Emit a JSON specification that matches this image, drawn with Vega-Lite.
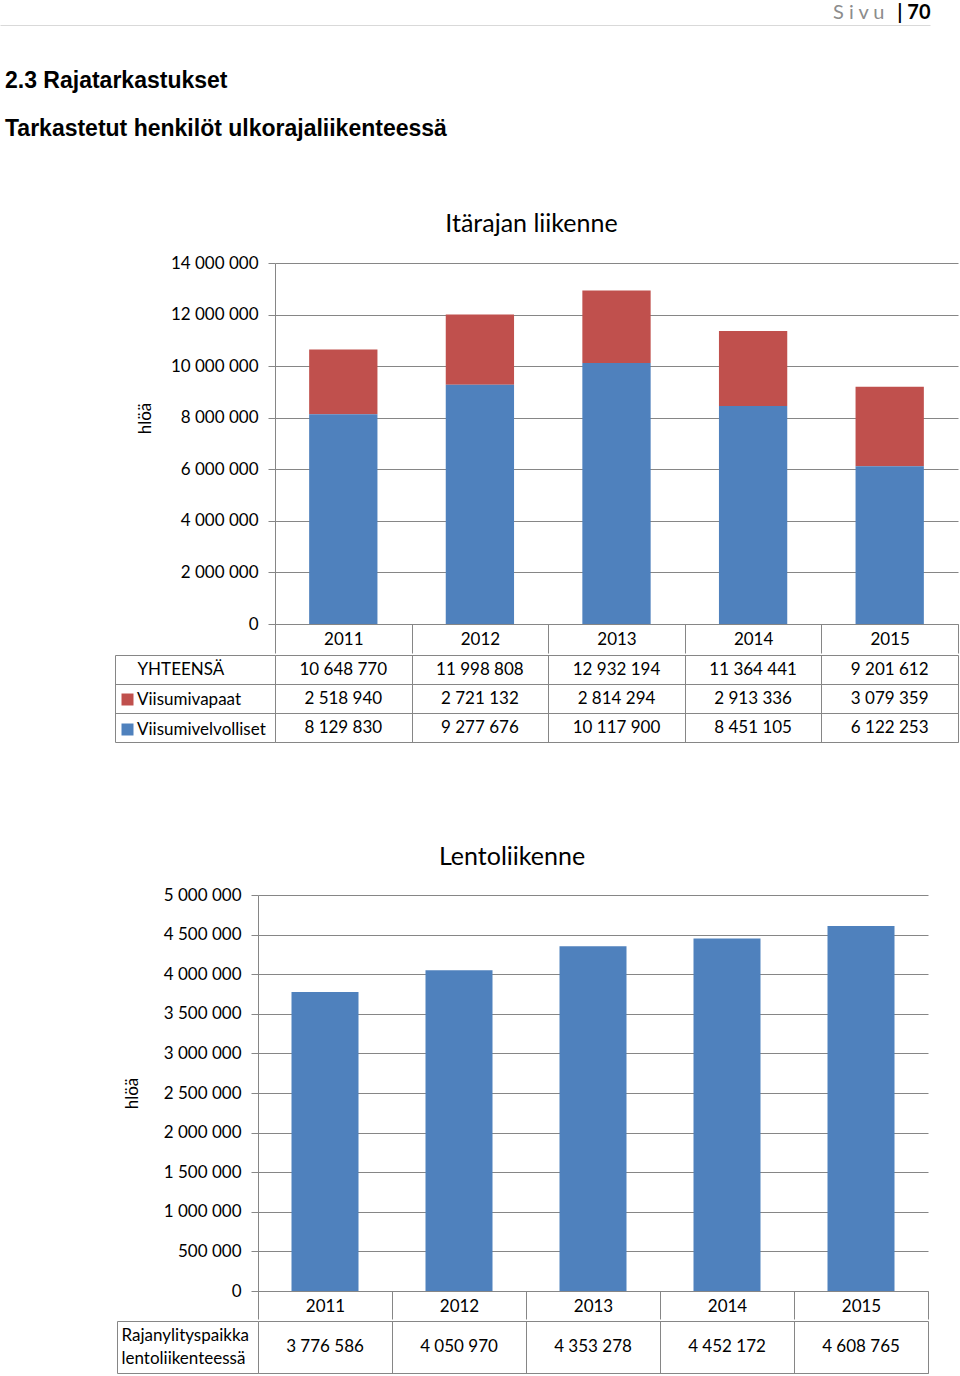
{
  "$schema": "https://vega.github.io/schema/vega-lite/v6.json",
  "background": "white",
  "padding": {"left": 0, "top": 2, "right": 0, "bottom": 0},
  "title": {"text": "S i v u", "anchor": "end", "dx": -74, "dy": 37, "offset": 0, "font": "Lato", "fontSize": 20, "fontWeight": "normal", "color": "#8c8c8c", "baseline": "alphabetic"},
  "datasets": {
    "itaraja": [
      {"vuosi": 2011, "ryhma": "YHTEENSÄ", "arvo": 10648770},
      {"vuosi": 2012, "ryhma": "YHTEENSÄ", "arvo": 11998808},
      {"vuosi": 2013, "ryhma": "YHTEENSÄ", "arvo": 12932194},
      {"vuosi": 2014, "ryhma": "YHTEENSÄ", "arvo": 11364441},
      {"vuosi": 2015, "ryhma": "YHTEENSÄ", "arvo": 9201612},
      {"vuosi": 2011, "ryhma": "Viisumivapaat", "arvo": 2518940},
      {"vuosi": 2012, "ryhma": "Viisumivapaat", "arvo": 2721132},
      {"vuosi": 2013, "ryhma": "Viisumivapaat", "arvo": 2814294},
      {"vuosi": 2014, "ryhma": "Viisumivapaat", "arvo": 2913336},
      {"vuosi": 2015, "ryhma": "Viisumivapaat", "arvo": 3079359},
      {"vuosi": 2011, "ryhma": "Viisumivelvolliset", "arvo": 8129830},
      {"vuosi": 2012, "ryhma": "Viisumivelvolliset", "arvo": 9277676},
      {"vuosi": 2013, "ryhma": "Viisumivelvolliset", "arvo": 10117900},
      {"vuosi": 2014, "ryhma": "Viisumivelvolliset", "arvo": 8451105},
      {"vuosi": 2015, "ryhma": "Viisumivelvolliset", "arvo": 6122253}
    ],
    "lento": [
      {"vuosi": 2011, "rivi": "Rajanylityspaikka lentoliikenteessä", "arvo": 3776586},
      {"vuosi": 2012, "rivi": "Rajanylityspaikka lentoliikenteessä", "arvo": 4050970},
      {"vuosi": 2013, "rivi": "Rajanylityspaikka lentoliikenteessä", "arvo": 4353278},
      {"vuosi": 2014, "rivi": "Rajanylityspaikka lentoliikenteessä", "arvo": 4452172},
      {"vuosi": 2015, "rivi": "Rajanylityspaikka lentoliikenteessä", "arvo": 4608765}
    ]
  },
  "spacing": 71,
  "vconcat": [
    {
      "width": 930,
      "height": 30,
      "data": {"values": []},
      "mark": "rule",
      "encoding": {
        "x": {"field": "p", "type": "quantitative", "scale": {"domain": [0, 1]},
          "axis": {"orient": "top", "ticks": false, "labels": false, "grid": false, "domainColor": "#d9d9d9",
            "title": "|  70", "titleAnchor": "end", "titleFontWeight": "bold", "titleFontSize": 20, "titlePadding": 7, "titleBaseline": "alphabetic"}}
      },
      "title": {"text": "2.3 Rajatarkastukset", "subtitle": "Tarkastetut henkilöt ulkorajaliikenteessä", "orient": "bottom", "anchor": "start", "dx": 5, "offset": 15,
        "font": "Liberation Sans", "fontSize": 23, "fontWeight": "bold", "color": "#000000",
        "subtitleFont": "Liberation Sans", "subtitleFontSize": 23, "subtitleFontWeight": "bold", "subtitleColor": "#000000", "subtitlePadding": 25}
    },
    {
      "hconcat": [
        {"width": 275, "height": 511, "data": {"values": []}, "mark": "point"},
        {
          "vconcat": [
            {
              "width": 683,
              "height": 361,
              "title": {"text": "Itärajan liikenne", "anchor": "middle", "frame": "group", "dx": -85, "fontSize": 25, "offset": 17},
              "data": {"name": "itaraja"},
              "transform": [{"filter": "datum.ryhma != 'YHTEENSÄ'"}],
              "mark": {"type": "bar", "width": {"band": 0.5}},
              "encoding": {
                "x": {"field": "vuosi", "type": "ordinal", "scale": {"type": "band", "paddingInner": 0, "paddingOuter": 0},
                  "axis": {"title": null, "labelAngle": 0, "tickBand": "extent", "tickSize": 29, "labelPadding": -14, "labelBaseline": "middle", "grid": false,
                    "labelFontSize": {"condition": {"test": "datum.value == null", "value": 0}, "value": 17}}},
                "y": {"field": "arvo", "type": "quantitative", "stack": "zero", "scale": {"domain": [0, 14000000], "nice": false},
                  "axis": {"values": [0, 2000000, 4000000, 6000000, 8000000, 10000000, 12000000, 14000000], "format": ",d", "title": "hlöä", "titlePadding": 16, "titleY": 155, "labelPadding": 10, "tickSize": 7, "grid": true}},
                "color": {"field": "ryhma", "type": "nominal", "scale": {"domain": ["Viisumivapaat", "Viisumivelvolliset"], "range": ["#c0504d", "#4f81bd"]},
                  "legend": {"orient": "none", "legendX": 119, "legendY": 666, "title": null, "symbolType": "square", "symbolSize": 144, "symbolStrokeWidth": 0, "labelFontSize": 17, "labelFont": "Lato", "labelColor": "#000000", "rowPadding": 12, "labelOffset": 1, "padding": 0}},
                "order": {"field": "ryhma", "sort": "descending"}
              }
            },
            {
              "width": 683,
              "height": 87,
              "data": {"name": "itaraja"},
              "mark": {"type": "text", "fontSize": 17, "font": "Lato", "color": "#000000", "baseline": "middle"},
              "encoding": {
                "x": {"field": "vuosi", "type": "ordinal", "scale": {"type": "band", "paddingInner": 0, "paddingOuter": 0},
                  "axis": {"title": null, "labels": false, "ticks": false, "domain": true, "grid": true, "tickBand": "extent"}},
                "y": {"field": "ryhma", "type": "nominal", "sort": ["YHTEENSÄ", "Viisumivapaat", "Viisumivelvolliset"], "scale": {"type": "band", "paddingInner": 0, "paddingOuter": 0},
                  "axis": {"title": null, "offset": 160, "tickSize": -160, "tickBand": "extent", "grid": true, "domain": true, "labelAlign": "left", "labelPadding": 138, "labelBaseline": "middle",
                    "labelFontSize": {"condition": {"test": "datum.value == 'YHTEENSÄ'", "value": 17}, "value": 0},
                    "labelExpr": "datum.value == 'YHTEENSÄ' ? datum.value : ''"}},
                "text": {"field": "arvo", "type": "quantitative", "format": ",d"}
              }
            }
          ],
          "spacing": 0
        }
      ],
      "spacing": 0,
      "bounds": "flush"
    },
    {
      "hconcat": [
        {"width": 258, "height": 10, "data": {"values": []}, "mark": "point"},
        {
          "vconcat": [
            {
              "width": 670,
              "height": 396,
              "title": {"text": "Lentoliikenne", "anchor": "middle", "frame": "group", "dx": -81, "fontSize": 25, "offset": 16},
              "data": {"name": "lento"},
              "mark": {"type": "bar", "width": {"band": 0.5}, "color": "#4f81bd"},
              "encoding": {
                "x": {"field": "vuosi", "type": "ordinal", "scale": {"type": "band", "paddingInner": 0, "paddingOuter": 0},
                  "axis": {"title": null, "labelAngle": 0, "tickBand": "extent", "tickSize": 28, "labelPadding": -13, "labelBaseline": "middle", "grid": false,
                    "labelFontSize": {"condition": {"test": "datum.value == null", "value": 0}, "value": 17}}},
                "y": {"field": "arvo", "type": "quantitative", "scale": {"domain": [0, 5000000], "nice": false},
                  "axis": {"values": [0, 500000, 1000000, 1500000, 2000000, 2500000, 3000000, 3500000, 4000000, 4500000, 5000000], "format": ",d", "title": "hlöä", "titlePadding": 22, "labelPadding": 10, "tickSize": 7, "grid": true}}
              }
            },
            {
              "width": 670,
              "height": 52,
              "data": {"name": "lento"},
              "mark": {"type": "text", "fontSize": 17, "font": "Lato", "color": "#000000", "baseline": "middle"},
              "encoding": {
                "x": {"field": "vuosi", "type": "ordinal", "scale": {"type": "band", "paddingInner": 0, "paddingOuter": 0},
                  "axis": {"title": null, "labels": false, "ticks": false, "domain": true, "grid": true, "tickBand": "extent"}},
                "y": {"field": "rivi", "type": "nominal", "scale": {"type": "band", "paddingInner": 0, "paddingOuter": 0},
                  "axis": {"title": null, "offset": 141, "tickSize": -141, "tickBand": "extent", "grid": true, "domain": true, "labelAlign": "left", "labelPadding": 137, "labelBaseline": "middle", "labelLineHeight": 23, "labelOffset": -11.5,
                    "labelFontSize": {"condition": {"test": "datum.value == null", "value": 0}, "value": 17},
                    "labelExpr": "datum.value ? split(datum.value, ' ') : ''"}},
                "text": {"field": "arvo", "type": "quantitative", "format": ",d"}
              }
            }
          ],
          "spacing": 0
        }
      ],
      "spacing": 0,
      "bounds": "flush"
    }
  ],
  "config": {
    "view": {"stroke": null},
    "font": "Lato",
    "locale": {"number": {"decimal": ",", "thousands": " ", "grouping": [3], "currency": ["", " €"]}},
    "axis": {"labelFont": "Lato", "titleFont": "Lato", "labelFontSize": 17, "titleFontSize": 17, "labelColor": "#000000", "titleColor": "#000000", "titleFontWeight": "normal",
      "domainColor": "#868686", "tickColor": "#868686", "gridColor": "#868686", "gridOpacity": 1, "domainWidth": 1, "tickWidth": 1, "gridWidth": 1},
    "title": {"font": "Lato", "fontWeight": "normal", "color": "#000000"},
    "legend": {"labelFont": "Lato"}
  }
}
